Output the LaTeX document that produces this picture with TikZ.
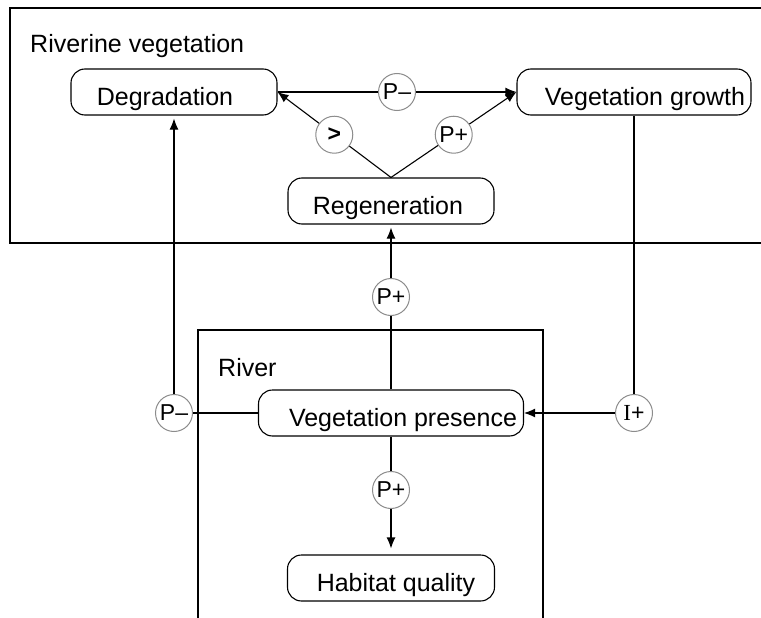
\documentclass[tikz,border=0pt]{standalone}
\usepackage{fontspec}
\setmainfont{Liberation Sans}
\newfontfamily\serifI{Liberation Serif}
\usetikzlibrary{arrows.meta,calc}
\begin{document}
\begin{tikzpicture}[x=1pt,y=-1pt,
  every node/.style={font=\fontsize{25}{30}\selectfont},
  state/.style={draw, line width=1.1pt, rounded corners=14pt, minimum height=46pt,
                inner sep=0pt, fill=white, text height=27pt, text depth=0pt},
  infl/.style={circle, draw=black!45, line width=1pt, fill=white, minimum size=37pt,
               inner sep=0pt, font=\fontsize{23}{26}\selectfont},
  link/.style={line width=1.1pt},
  arr/.style={link, -{Latex[length=11pt,width=9pt]}},
  frame/.style={line width=1.4pt},
  title/.style={anchor=base west, inner sep=0pt}]
\useasboundingbox (0,0) rectangle (761,618);

% compartments
\draw[frame] (761,8) -- (10,8) -- (10,243) -- (761,243);
\draw[frame] (198,618) -- (198,330) -- (543,330) -- (543,618);
\node[title] (tveg) at (30,53) {Riverine vegetation};
\node[title] (triv) at (218,376) {River};

% quantities
\node[state, minimum width=206pt] (deg) at (174,92) {Degradation\kern18pt};
\node[state, minimum width=234pt] (grow) at (634,92) {\kern22pt Vegetation growth};
\node[state, minimum width=206pt] (regen) at (391,201) {Regeneration\kern6pt};
\node[state, minimum width=265pt] (pres) at (391,413) {\kern24pt Vegetation presence};
\node[state, minimum width=207pt] (hab) at (391,578) {\kern10pt Habitat quality};

% dependencies
\node[infl] (c1) at ($(deg.east)!.5!(grow.west)$) {P\textendash};
\node[infl] (c2) at ($(regen.north)!.5!(deg.east)$) {\textbf{>}};
\node[infl] (c3) at ($(regen.north)!.5!(grow.west)$) {P+};
\node[infl] (c4) at (391,297) {P+};
\node[infl] (c5) at (deg.south |- pres.west) {P\textendash};
\node[infl] (c6) at (grow.south |- pres.east) {{\serifI I}+};
\node[infl] (c7) at (391,490) {P+};

\draw[link] (deg.east) -- (c1);
\draw[arr] (c1) -- (grow.west);
\draw[link] (regen.north) -- (c2);
\draw[arr] (c2) -- (deg.east);
\draw[link] (regen.north) -- (c3);
\draw[arr] (c3) -- (grow.west);
\draw[link] (pres.north) -- (c4);
\draw[arr, shorten >=3pt] (c4) -- (regen.south);
\draw[link] (pres.west) -- (c5);
\draw[arr, shorten >=3pt] (c5) -- (deg.south);
\draw[link] (grow.south) -- (c6);
\draw[arr] (c6) -- (pres.east);
\draw[link] (pres.south) -- (c7);
\draw[arr, shorten >=6pt] (c7) -- (hab.north);
\end{tikzpicture}
\end{document}
